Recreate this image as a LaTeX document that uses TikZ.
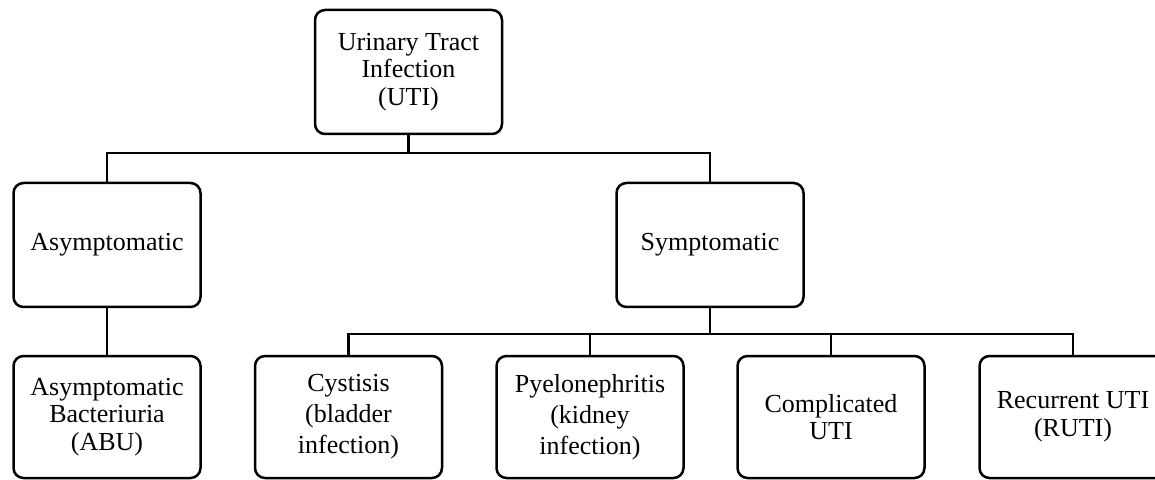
\documentclass[tikz,border=0pt]{standalone}
\usepackage{fontspec}
\setmainfont{Liberation Serif}
\begin{document}
\begin{tikzpicture}[x=0.5pt,y=-0.5pt,
  box/.style={draw, line width=1.25pt, rounded corners=5pt, minimum width=93.5pt,
    minimum height=62pt, align=center, inner sep=0pt, font=\fontsize{13}{13.75}\selectfont},
  lowbox/.style={box, minimum height=61pt},
  widebox/.style={lowbox, font=\fontsize{13}{15.5}\selectfont},
  link/.style={line width=1.25pt}]
\useasboundingbox (0,0) rectangle (1155,480);
\node[box] (uti) at (408.5,72) {Urinary Tract\\Infection\\(UTI)};
\node[box] (asym) at (107,245) {Asymptomatic};
\node[box] (sym) at (710,245) {Symptomatic};
\node[lowbox] (abu) at (107,417) {Asymptomatic\\Bacteriuria\\(ABU)};
\node[widebox] (cys) at (348.5,417) {Cystisis\\(bladder\\infection)};
\node[widebox] (pye) at (590,417) {Pyelonephritis\\(kidney\\infection)};
\node[lowbox] (com) at (831,417) {Complicated\\UTI};
\node[lowbox] (rec) at (1073,417) {Recurrent UTI\\(RUTI)};
\draw[link] (uti.south) -- ++(0,18) -| (asym.north);
\draw[link] (uti.south) -- ++(0,18) -| (sym.north);
\draw[link] (asym.south) -- (abu.north);
\draw[link] (sym.south) -- ++(0,26) -| (cys.north);
\draw[link] (sym.south) -- ++(0,26) -| (pye.north);
\draw[link] (sym.south) -- ++(0,26) -| (com.north);
\draw[link] (sym.south) -- ++(0,26) -| (rec.north);
\end{tikzpicture}
\end{document}
